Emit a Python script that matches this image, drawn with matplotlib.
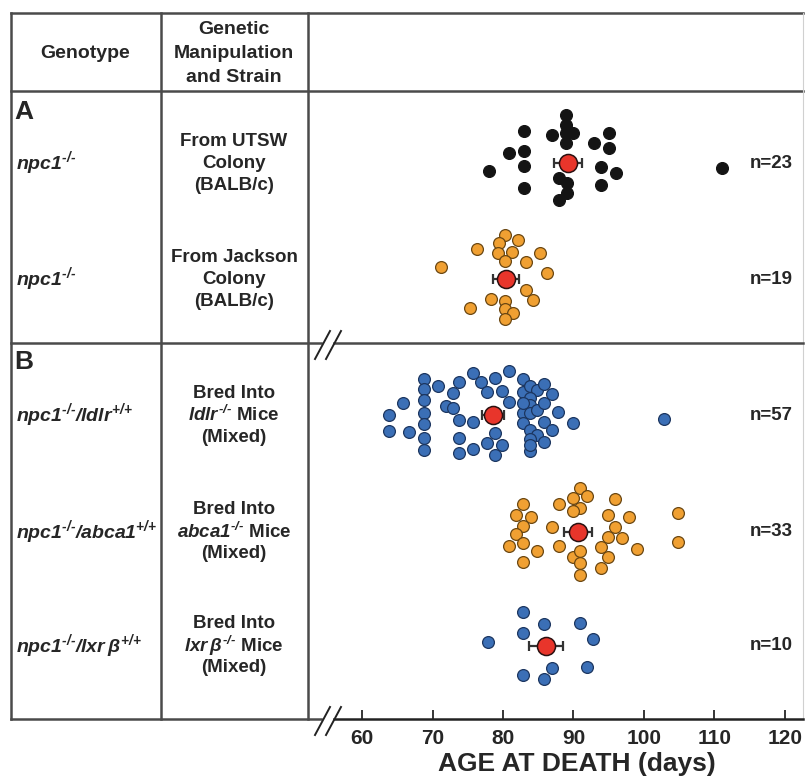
import numpy as np
import matplotlib
matplotlib.use('Agg')
import matplotlib.pyplot as plt

plt.rcParams['font.family'] = ['Liberation Sans', 'DejaVu Sans']
plt.rcParams['mathtext.fontset'] = 'custom'
plt.rcParams['mathtext.it'] = 'Liberation Sans:italic:bold'
plt.rcParams['mathtext.rm'] = 'Liberation Sans:italic:bold'
plt.rcParams['mathtext.bf'] = 'Liberation Sans:bold'

# age at death (days) and vertical swarm offset of each mouse, per group
a1_days = [88.9, 88.9, 89.9, 88.9, 88.9, 83.0, 87.0, 95.0, 92.9, 95.0, 80.9, 83.0,
           83.0, 78.0, 93.9, 96.0, 87.9, 89.1, 89.1, 87.9, 93.9, 83.0, 111.1]
a1_off = [-48, -38, -30, -30, -20, -32, -28, -30, -20, -15, -10, -12,
          3, 8, 4, 10, 15, 20, 30, 37, 22, 25, 5]

a2_days = [80.3, 82.1, 76.3, 79.4, 79.3, 81.3, 80.3, 83.3, 85.2, 71.2, 86.2, 83.3,
           84.3, 78.3, 80.3, 80.3, 81.4, 75.3, 80.3]
a2_off = [-44, -39, -30, -36, -26, -27, -18, -17, -26, -12, -6, 11,
          21, 20, 22, 30, 34, 29, 40]

b1_days = [68.8, 68.8, 68.8, 68.8, 68.8, 68.8, 68.8, 70.8, 65.8, 63.8, 63.8, 66.7,
           73.8, 72.9, 71.9, 72.9, 73.8, 73.8, 73.8, 75.7, 76.9, 77.7, 75.7, 75.7,
           77.7, 78.9, 79.9, 80.9, 80.9, 78.9, 79.9, 78.9, 82.8, 82.8, 83.8, 84.8,
           85.8, 83.8, 83.8, 82.8, 83.8, 84.8, 85.8, 86.9, 82.8, 83.8, 85.8, 86.9,
           84.8, 83.8, 85.8, 83.8, 83.8, 87.8, 89.9, 102.8, 82.8]
b1_off = [-36, -26, -15, -2, 9, 23, 35, -29, -12, 0, 16, 17,
          -33, -22, -9, -7, 5, 23, 38, -42, -33, -23, 7, 34,
          28, -37, -24, -13, -44, 18, 30, 40, -36, -23, -29, -25,
          -31, -17, -10, -2, -2, -5, -12, -21, 8, 15, 7, 15,
          20, 24, 27, 36, 30, -3, 8, 4, -12]

b2_days = [90.9, 91.9, 89.9, 90.9, 89.9, 87.9, 82.8, 81.8, 84.0, 82.8, 81.8, 80.9,
           82.8, 84.8, 82.8, 86.9, 87.9, 89.9, 90.9, 90.9, 90.9, 95.9, 94.9, 97.9,
           95.9, 94.9, 96.9, 93.9, 94.9, 93.9, 99.0, 104.8, 104.8]
b2_off = [-44, -36, -34, -24, -21, -28, -28, -17, -15, -6, 2, 14,
          11, 19, 30, -5, 14, 25, 19, 31, 43, -33, -17, -15,
          -5, 5, 6, 15, 25, 36, 17, -19, 10]

b3_days = [82.8, 85.8, 90.9, 82.8, 77.9, 92.8, 86.9, 82.8, 85.8, 91.9]
b3_off = [-34, -22, -23, -13, -4, -7, 22, 29, 33, 21]

means = [89.2, 80.4, 78.6, 90.6, 86.1]
sems = [2.0, 1.8, 1.6, 2.0, 2.4]
counts = ['n=23', 'n=19', 'n=57', 'n=33', 'n=10']

header = ['Genetic', 'Manipulation', 'and Strain']
genotypes = [r'$npc1^{\text{-/-}}$', r'$npc1^{\text{-/-}}$',
             r'$npc1^{\text{-/-}}/ldlr^{\text{+/+}}$',
             r'$npc1^{\text{-/-}}/abca1^{\text{+/+}}$',
             r'$npc1^{\text{-/-}}/lxr\,\beta^{\text{+/+}}$']
strains = [['From UTSW', 'Colony', '(BALB/c)'],
           ['From Jackson', 'Colony', '(BALB/c)'],
           ['Bred Into', r'$ldlr^{\text{-/-}}$ Mice', '(Mixed)'],
           ['Bred Into', r'$abca1^{\text{-/-}}$ Mice', '(Mixed)'],
           ['Bred Into', r'$lxr\,\beta^{\text{-/-}}$ Mice', '(Mixed)']]
xticks = [60, 70, 80, 90, 100, 110, 120]

groups = [(a1_days, a1_off), (a2_days, a2_off), (b1_days, b1_off),
          (b2_days, b2_off), (b3_days, b3_off)]
face = ['#141414', '#f0a032', '#3b6fb6', '#f0a032', '#3b6fb6']
edge = ['#141414', '#6b4712', '#1c3660', '#6b4712', '#1c3660']
row_y = [163, 279, 415, 532, 646]

W, H = 806, 782
fig = plt.figure(figsize=(W / 100, H / 100), dpi=100)

# table frame, drawn in pixel units
bg = fig.add_axes([0, 0, 1, 1])
bg.set_xlim(0, W)
bg.set_ylim(H, 0)
bg.axis('off')
lc = '#4a4a4a'
lw = 1.8
bg.plot([11, 803], [13, 13], color=lc, lw=lw)
bg.plot([11, 803], [91, 91], color=lc, lw=lw)
bg.plot([11, 11], [13, 719], color=lc, lw=lw)
bg.plot([161, 161], [13, 719], color=lc, lw=lw)
bg.plot([308, 308], [13, 719], color=lc, lw=lw)
bg.plot([803, 803], [13, 719], color='#d0d0d0', lw=0.8)
bg.plot([11, 321], [343, 343], color=lc, lw=lw)
bg.plot([334, 803], [343, 343], color=lc, lw=lw)
bg.plot([11, 321], [719, 719], color=lc, lw=lw)
bg.plot([334, 803], [719, 719], color='#222222', lw=lw)
for yb in (345, 721):
    bg.plot([315, 330], [yb + 14, yb - 14], color='#222222', lw=1.4)
    bg.plot([326, 341], [yb + 14, yb - 14], color='#222222', lw=1.4)

txt = '#262626'
bg.text(85, 54, 'Genotype', ha='center', va='center', fontsize=14, fontweight='bold', color=txt)
for k, line in enumerate(header):
    bg.text(234, 30 + 23.5 * k, line, ha='center', va='center',
            fontsize=14, fontweight='bold', color=txt)
bg.text(14, 112, 'A', ha='left', va='center', fontsize=19, fontweight='bold', color=txt)
bg.text(14, 362, 'B', ha='left', va='center', fontsize=19, fontweight='bold', color=txt)

for i in range(5):
    yc = row_y[i]
    bg.text(16, yc, genotypes[i], ha='left', va='center', fontsize=14, color=txt)
    for k, line in enumerate(strains[i]):
        bg.text(234, yc - 22 + 22 * k, line, ha='center', va='center', fontsize=13.5,
                fontweight='bold', color=txt)
    bg.text(771, yc, counts[i], ha='center', va='center', fontsize=13.5,
            fontweight='bold', color=txt)

bg.text(577, 764, 'AGE AT DEATH (days)', ha='center', va='center', fontsize=19,
        fontweight='bold', color=txt)

# scatter panel
ax = fig.add_axes([308 / W, (H - 719) / H, (801 - 308) / W, (719 - 91) / H])
ax.patch.set_alpha(0)
ax.set_xlim(52.34, 122.27)
ax.set_ylim(719, 91)
for s in ax.spines.values():
    s.set_visible(False)
ax.set_yticks([])
ax.set_xticks(xticks)
ax.tick_params(axis='x', direction='in', length=6.5, width=1.3, pad=7,
               labelsize=15, colors=txt)
for lab in ax.get_xticklabels():
    lab.set_fontweight('bold')

for i, (d, off) in enumerate(groups):
    y = row_y[i] + np.array(off)
    ax.plot(d, y, 'o', ms=8.5, mfc=face[i], mec=edge[i], mew=0.9, ls='none', zorder=2)
    ax.errorbar(means[i], row_y[i], xerr=sems[i], fmt='none', ecolor='#333333',
                elinewidth=1.6, capsize=3.8, capthick=1.6, zorder=3)
    ax.plot(means[i], row_y[i], 'o', ms=13, mfc='#e8352b', mec='#2a1010', mew=1.1, zorder=4)

fig.savefig('out.png', dpi=100)
